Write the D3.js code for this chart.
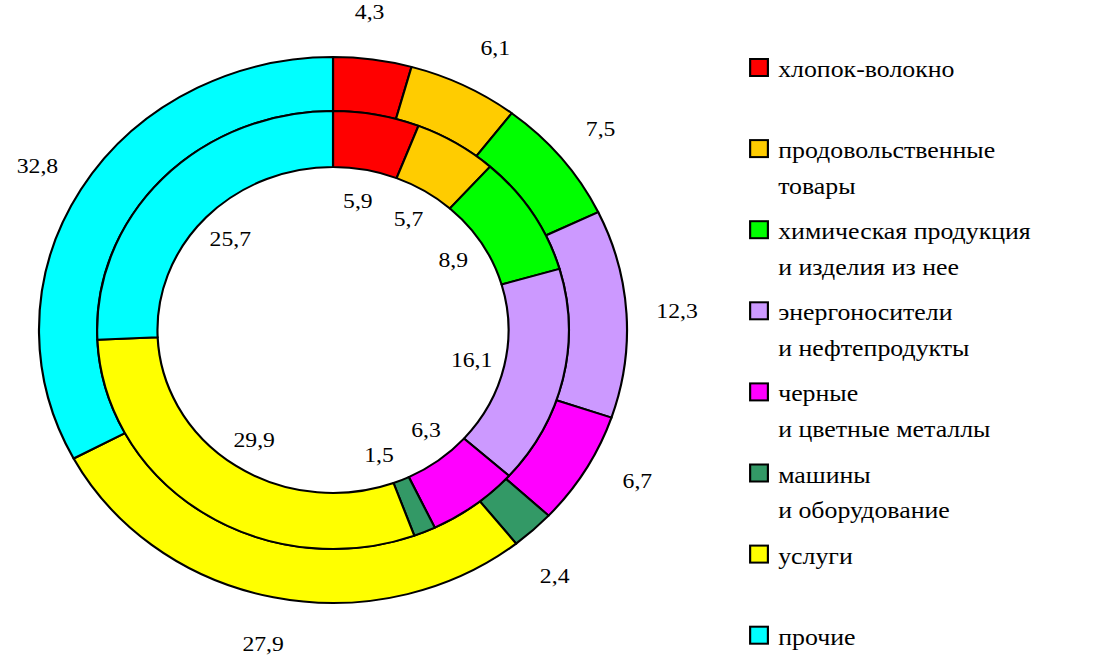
<!DOCTYPE html>
<html>
<head>
<meta charset="utf-8">
<script src="https://cdn.jsdelivr.net/npm/d3@7"></script>
<style>
  body { margin: 0; background: #fff; }
  svg { display: block; }
</style>
</head>
<body style="font-family:'Liberation Serif', serif">
<svg id="chart" width="1107" height="657" style="font-family:'Liberation Serif', serif"></svg>
<script>
// Data: shares of export structure, %
const categories = [
    ["хлопок-волокно"],
    ["продовольственные", "товары"],
    ["химическая продукция", "и изделия из нее"],
    ["энергоносители", "и нефтепродукты"],
    ["черные", "и цветные металлы"],
    ["машины", "и оборудование"],
    ["услуги"],
    ["прочие"]
];
const outerValues = [4.3, 6.1, 7.5, 12.3, 6.7, 2.4, 27.9, 32.8];
const innerValues = [5.9, 5.7, 8.9, 16.1, 6.3, 1.5, 29.9, 25.7];
const colors = ["#ff0000", "#ffcc00", "#00ff00", "#cc99ff", "#ff00ff", "#339966", "#ffff00", "#00ffff"];

// The whole picture is stretched a bit horizontally, like the original
const stretch = 1.077;
const cx = 309.2, cy = 330;
const rOuter = 273, rMid = 219, rInner = 163;
const minLabelGap = 22 * Math.PI / 180; // labels closer than this get pushed apart
const labelSize = 22, legendSize = 24;

const svg = d3.select("#chart");
const root = svg.append("g").attr("transform", `scale(${stretch},1)`);

const fmt = v => String(v).replace(".", ",");
const pie = d3.pie().sort(null).value(d => d);

// spread neighbouring labels whose mid-angles are too close
function labelAngles(arcs) {
    const a = arcs.map(d => (d.startAngle + d.endAngle) / 2);
    for (let i = 1; i < a.length; i++) {
        const gap = a[i] - a[i - 1];
        if (gap < minLabelGap) {
            const push = (minLabelGap - gap) / 2;
            a[i - 1] -= push;
            a[i] += push;
        }
    }
    return a;
}

function drawRing(values, r0, r1, labelR) {
    const arcs = pie(values);
    const arc = d3.arc().innerRadius(r0).outerRadius(r1);
    const angles = labelAngles(arcs);
    const g = root.append("g").attr("transform", `translate(${cx},${cy})`);
    g.selectAll("path")
        .data(arcs)
        .enter()
        .append("path")
        .attr("d", arc)
        .attr("fill", (d, i) => colors[i])
        .attr("stroke", "#000")
        .attr("stroke-width", 2)
        .attr("stroke-linejoin", "round");
    g.selectAll("text")
        .data(arcs)
        .enter()
        .append("text")
        .attr("x", (d, i) => labelR * Math.sin(angles[i]))
        .attr("y", (d, i) => -labelR * Math.cos(angles[i]))
        .attr("text-anchor", "middle")
        .attr("dy", "0.34em")
        .attr("font-size", labelSize)
        .attr("fill", "#000")
        .text(d => fmt(d.data));
}

drawRing(outerValues, rMid, rOuter, 320);
drawRing(innerValues, rInner, rMid, 132);

// Legend
const legendX = 696.5, legendY = 77, legendStep = 81.1, lineStep = 36;
const items = root.append("g").selectAll("g")
    .data(categories)
    .enter()
    .append("g")
    .attr("transform", (d, i) => `translate(${legendX},${legendY + i * legendStep})`);
items.append("rect")
    .attr("x", 0)
    .attr("y", -18)
    .attr("width", 16.5)
    .attr("height", 17)
    .attr("fill", (d, i) => colors[i])
    .attr("stroke", "#000")
    .attr("stroke-width", 2);
items.append("text")
    .attr("x", 26)
    .attr("y", 0)
    .attr("font-size", legendSize)
    .attr("fill", "#000")
    .selectAll("tspan")
    .data(d => d)
    .enter()
    .append("tspan")
    .attr("x", 26)
    .attr("dy", (d, i) => i === 0 ? 0 : lineStep)
    .text(d => d);
</script>
</body>
</html>
